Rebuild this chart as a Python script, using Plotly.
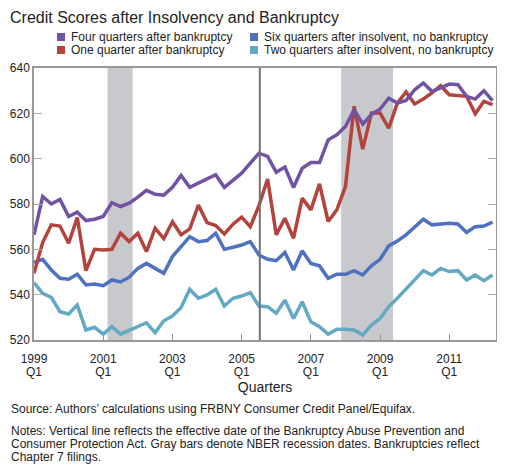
import plotly.graph_objects as go

# quarters since 1999 Q1 (0 = 1999 Q1, 53 = 2012 Q2)
quarters = list(range(54))

four_after_bk = [566.4, 583.3, 580.0, 582.0, 574.5, 576.4, 572.7, 573.3, 574.5, 580.6,
                 578.9, 580.4, 583.0, 586.0, 584.3, 583.9, 587.4, 592.6, 587.4, 589.2,
                 591.4, 592.9, 587.3, 590.7, 593.6, 598.0, 602.4, 601.0, 594.0, 596.3,
                 587.3, 595.8, 598.3, 598.3, 608.3, 610.5, 614.2, 621.6, 615.3, 619.4,
                 621.9, 626.7, 624.5, 625.7, 630.4, 633.4, 629.7, 631.2, 632.9, 632.6,
                 627.5, 626.3, 630.0, 625.6]

one_after_bk = [549.4, 563.0, 570.8, 570.3, 562.7, 574.0, 550.6, 560.0, 559.7, 560.0,
                567.1, 563.4, 567.1, 559.0, 569.3, 564.7, 572.2, 566.4, 569.0, 579.5,
                571.8, 570.5, 566.8, 571.1, 574.2, 570.0, 579.3, 591.0, 566.4, 573.7,
                564.9, 582.6, 577.4, 588.9, 572.3, 577.4, 587.7, 623.1, 604.2, 620.1,
                620.1, 613.5, 624.5, 629.4, 624.1, 626.3, 629.0, 632.2, 628.2, 627.9,
                627.5, 619.8, 625.3, 623.8]

six_after_insolv = [554.3, 555.6, 550.9, 547.2, 546.8, 549.0, 544.3, 544.7, 544.0, 546.5,
                    545.6, 547.7, 551.6, 553.8, 551.6, 549.4, 556.8, 561.2, 565.6, 563.4,
                    563.9, 567.1, 560.0, 560.9, 561.9, 563.4, 557.5, 555.6, 555.0, 558.6,
                    550.9, 559.4, 553.8, 552.7, 547.2, 549.0, 549.0, 550.6, 548.7, 552.7,
                    555.6, 561.5, 563.7, 566.4, 570.0, 573.3, 570.8, 571.2, 571.5, 571.2,
                    567.4, 570.0, 570.3, 572.0]

two_after_insolv = [545.3, 540.6, 538.8, 532.5, 531.5, 535.4, 524.4, 525.6, 522.6, 525.9,
                    522.6, 524.4, 526.2, 527.6, 523.2, 528.5, 530.6, 534.3, 542.4, 538.4,
                    539.9, 542.4, 535.0, 538.4, 539.4, 540.9, 535.0, 534.7, 531.8, 537.6,
                    529.5, 536.9, 528.0, 525.9, 522.6, 524.7, 524.7, 524.4, 522.2, 526.6,
                    529.5, 534.7, 538.4, 542.4, 546.8, 550.6, 548.7, 551.6, 550.2, 550.6,
                    546.5, 548.7, 546.2, 548.7]

tick_pos = [0, 8, 16, 24, 32, 40, 48]
tick_years = ["1999", "2001", "2003", "2005", "2007", "2009", "2011"]
tick_quarter = ["Q1"] * 7

recessions = [(8.5, 11.4), (35.5, 41.5)]
bapcpa = 26.1

# plot area in page pixels: x 34..496, y 68..340 (page body has an 8px margin)
L, R, T, B = 34, 496, 68, 340
PAGE = 8
TEXT_X = PAGE + 1


def px(x):
    return (x - L) / (R - L)


def py(y):
    return (B - y) / (B - T)


fig = go.Figure()

for x0, x1 in recessions:
    fig.add_vrect(x0=x0, x1=x1, fillcolor="#c8c9cc", opacity=1,
                  line_width=0, layer="below")

fig.add_vline(x=bapcpa, line_color="#737373", line_width=2)

# draw order (last on top); legend position (col, row)
series = [
    ("Two quarters after insolvent, no bankruptcy", two_after_insolv, "#62a9c3", 1, 1),
    ("Six quarters after insolvent, no bankruptcy", six_after_insolv, "#4d72c0", 1, 0),
    ("One quarter after bankruptcy", one_after_bk, "#b3443d", 0, 1),
    ("Four quarters after bankruptcy", four_after_bk, "#7152a3", 0, 0),
]

swatch_x = [57, 250]
text_x = [69, 262]
row_y = [37, 50]

for name, vals, color, col, row in series:
    fig.add_trace(go.Scatter(x=quarters, y=vals, name=name, mode="lines",
                             line=dict(color=color, width=3.5), showlegend=False))
    fig.add_shape(type="rect", xref="paper", yref="paper",
                  x0=px(swatch_x[col]), x1=px(swatch_x[col] + 8),
                  y0=py(row_y[row] - 4), y1=py(row_y[row] + 4),
                  fillcolor=color, line_width=0)
    fig.add_annotation(x=px(text_x[col]), xref="paper", xanchor="left",
                       y=py(row_y[row]), yref="paper", yanchor="middle",
                       text=name, showarrow=False,
                       font=dict(size=12, color="#222222"))

fig.update_xaxes(range=[0, 53.4], tickvals=tick_pos, ticktext=tick_years,
                 ticks="inside", ticklen=6, tickcolor="#999999",
                 ticklabelstandoff=7,
                 showline=True, linecolor="#999999", linewidth=1.5, mirror=True,
                 showgrid=False, zeroline=False,
                 title=dict(text="Quarters", standoff=17),
                 tickfont=dict(size=12, color="#222222"))

fig.update_yaxes(range=[520, 640], dtick=20,
                 ticks="inside", ticklen=8, tickcolor="#aaaaaa",
                 showline=True, linecolor="#999999", linewidth=1.5, mirror="ticks",
                 showgrid=False, zeroline=False,
                 tickfont=dict(size=12, color="#222222"))

# second row of x tick labels ("Q1")
fig.update_layout(xaxis2=dict(overlaying="x", anchor="y", side="bottom",
                              matches="x", range=[0, 53.4],
                              tickvals=tick_pos, ticktext=tick_quarter,
                              ticks="", ticklabelstandoff=23,
                              showline=False, showgrid=False, zeroline=False,
                              tickfont=dict(size=12, color="#222222")))
fig.add_trace(go.Scatter(x=[None], y=[None], xaxis="x2", yaxis="y",
                         showlegend=False, hoverinfo="skip"))

fig.add_annotation(x=px(TEXT_X), xref="paper", xanchor="left", y=py(PAGE), yref="paper",
                   yanchor="top", borderpad=0,
                   text="Credit Scores after Insolvency and Bankruptcy",
                   showarrow=False, font=dict(size=16, color="#222222"))

foot = [
    (409, "Source: Authors\u2019 calculations using FRBNY Consumer Credit Panel/Equifax."),
    (431, "Notes: Vertical line reflects the effective date of the Bankruptcy Abuse Prevention and"),
    (444, "Consumer Protection Act. Gray bars denote NBER recession dates. Bankruptcies reflect"),
    (457, "Chapter 7 filings."),
]
for y, line in foot:
    fig.add_annotation(x=px(TEXT_X), xref="paper", xanchor="left",
                       y=py(y), yref="paper", yanchor="middle",
                       text=line, showarrow=False,
                       font=dict(size=12, color="#222222"))

fig.update_layout(
    width=505 - PAGE, height=467 - PAGE,
    margin=dict(l=L - PAGE, r=505 - R, t=T - PAGE, b=467 - B, autoexpand=False),
    font=dict(family="Liberation Sans, Arial", size=12, color="#222222"),
    paper_bgcolor="white", plot_bgcolor="white",
    showlegend=False,
)

fig.write_html("out.html")
